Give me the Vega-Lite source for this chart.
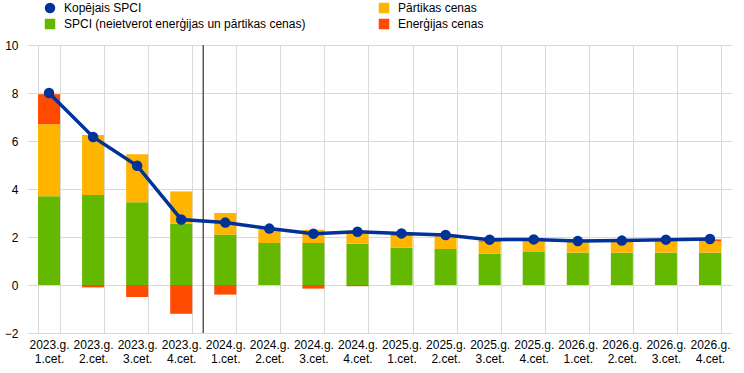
{
  "$schema": "https://vega.github.io/schema/vega-lite/v6.json",
  "width": 705,
  "height": 288,
  "autosize": {"type": "none"},
  "padding": {"left": 27, "top": 45, "right": 12, "bottom": 40},
  "background": "white",
  "config": {
    "font": "Liberation Sans",
    "view": {"stroke": null},
    "axis": {"labelFont": "Liberation Sans", "labelFontSize": 12, "labelColor": "#000000", "gridColor": "#d9d9d9", "gridWidth": 1}
  },
  "datasets": {
    "bars": [
      {"q": "2023.g. 1.cet.", "series": "SPCI (neietverot enerģijas un pārtikas cenas)", "v": 3.7},
      {"q": "2023.g. 1.cet.", "series": "Pārtikas cenas", "v": 3.0},
      {"q": "2023.g. 1.cet.", "series": "Enerģijas cenas", "v": 1.25},
      {"q": "2023.g. 2.cet.", "series": "SPCI (neietverot enerģijas un pārtikas cenas)", "v": 3.75},
      {"q": "2023.g. 2.cet.", "series": "Pārtikas cenas", "v": 2.5},
      {"q": "2023.g. 2.cet.", "series": "Enerģijas cenas", "v": -0.1},
      {"q": "2023.g. 3.cet.", "series": "SPCI (neietverot enerģijas un pārtikas cenas)", "v": 3.45},
      {"q": "2023.g. 3.cet.", "series": "Pārtikas cenas", "v": 2.0},
      {"q": "2023.g. 3.cet.", "series": "Enerģijas cenas", "v": -0.5},
      {"q": "2023.g. 4.cet.", "series": "SPCI (neietverot enerģijas un pārtikas cenas)", "v": 2.55},
      {"q": "2023.g. 4.cet.", "series": "Pārtikas cenas", "v": 1.35},
      {"q": "2023.g. 4.cet.", "series": "Enerģijas cenas", "v": -1.2},
      {"q": "2024.g. 1.cet.", "series": "SPCI (neietverot enerģijas un pārtikas cenas)", "v": 2.1},
      {"q": "2024.g. 1.cet.", "series": "Pārtikas cenas", "v": 0.9},
      {"q": "2024.g. 1.cet.", "series": "Enerģijas cenas", "v": -0.4},
      {"q": "2024.g. 2.cet.", "series": "SPCI (neietverot enerģijas un pārtikas cenas)", "v": 1.75},
      {"q": "2024.g. 2.cet.", "series": "Pārtikas cenas", "v": 0.6},
      {"q": "2024.g. 2.cet.", "series": "Enerģijas cenas", "v": 0.0},
      {"q": "2024.g. 3.cet.", "series": "SPCI (neietverot enerģijas un pārtikas cenas)", "v": 1.75},
      {"q": "2024.g. 3.cet.", "series": "Pārtikas cenas", "v": 0.55},
      {"q": "2024.g. 3.cet.", "series": "Enerģijas cenas", "v": -0.15},
      {"q": "2024.g. 4.cet.", "series": "SPCI (neietverot enerģijas un pārtikas cenas)", "v": 1.72},
      {"q": "2024.g. 4.cet.", "series": "Pārtikas cenas", "v": 0.55},
      {"q": "2024.g. 4.cet.", "series": "Enerģijas cenas", "v": -0.05},
      {"q": "2025.g. 1.cet.", "series": "SPCI (neietverot enerģijas un pārtikas cenas)", "v": 1.55},
      {"q": "2025.g. 1.cet.", "series": "Pārtikas cenas", "v": 0.5},
      {"q": "2025.g. 1.cet.", "series": "Enerģijas cenas", "v": 0.05},
      {"q": "2025.g. 2.cet.", "series": "SPCI (neietverot enerģijas un pārtikas cenas)", "v": 1.5},
      {"q": "2025.g. 2.cet.", "series": "Pārtikas cenas", "v": 0.55},
      {"q": "2025.g. 2.cet.", "series": "Enerģijas cenas", "v": 0.0},
      {"q": "2025.g. 3.cet.", "series": "SPCI (neietverot enerģijas un pārtikas cenas)", "v": 1.3},
      {"q": "2025.g. 3.cet.", "series": "Pārtikas cenas", "v": 0.5},
      {"q": "2025.g. 3.cet.", "series": "Enerģijas cenas", "v": 0.05},
      {"q": "2025.g. 4.cet.", "series": "SPCI (neietverot enerģijas un pārtikas cenas)", "v": 1.4},
      {"q": "2025.g. 4.cet.", "series": "Pārtikas cenas", "v": 0.5},
      {"q": "2025.g. 4.cet.", "series": "Enerģijas cenas", "v": 0.0},
      {"q": "2026.g. 1.cet.", "series": "SPCI (neietverot enerģijas un pārtikas cenas)", "v": 1.35},
      {"q": "2026.g. 1.cet.", "series": "Pārtikas cenas", "v": 0.45},
      {"q": "2026.g. 1.cet.", "series": "Enerģijas cenas", "v": 0.02},
      {"q": "2026.g. 2.cet.", "series": "SPCI (neietverot enerģijas un pārtikas cenas)", "v": 1.35},
      {"q": "2026.g. 2.cet.", "series": "Pārtikas cenas", "v": 0.5},
      {"q": "2026.g. 2.cet.", "series": "Enerģijas cenas", "v": 0.0},
      {"q": "2026.g. 3.cet.", "series": "SPCI (neietverot enerģijas un pārtikas cenas)", "v": 1.35},
      {"q": "2026.g. 3.cet.", "series": "Pārtikas cenas", "v": 0.5},
      {"q": "2026.g. 3.cet.", "series": "Enerģijas cenas", "v": 0.05},
      {"q": "2026.g. 4.cet.", "series": "SPCI (neietverot enerģijas un pārtikas cenas)", "v": 1.35},
      {"q": "2026.g. 4.cet.", "series": "Pārtikas cenas", "v": 0.47},
      {"q": "2026.g. 4.cet.", "series": "Enerģijas cenas", "v": 0.08}
    ],
    "hicp": [
      {"q": "2023.g. 1.cet.", "hicp": 8.0},
      {"q": "2023.g. 2.cet.", "hicp": 6.17},
      {"q": "2023.g. 3.cet.", "hicp": 4.97},
      {"q": "2023.g. 4.cet.", "hicp": 2.73},
      {"q": "2024.g. 1.cet.", "hicp": 2.6},
      {"q": "2024.g. 2.cet.", "hicp": 2.35},
      {"q": "2024.g. 3.cet.", "hicp": 2.14},
      {"q": "2024.g. 4.cet.", "hicp": 2.22},
      {"q": "2025.g. 1.cet.", "hicp": 2.15},
      {"q": "2025.g. 2.cet.", "hicp": 2.08},
      {"q": "2025.g. 3.cet.", "hicp": 1.89},
      {"q": "2025.g. 4.cet.", "hicp": 1.9},
      {"q": "2026.g. 1.cet.", "hicp": 1.83},
      {"q": "2026.g. 2.cet.", "hicp": 1.85},
      {"q": "2026.g. 3.cet.", "hicp": 1.89},
      {"q": "2026.g. 4.cet.", "hicp": 1.92}
    ],
    "divider": [{"q": "2024.g. 1.cet."}]
  },
  "encoding": {
    "x": {
      "field": "q", "type": "nominal",
      "scale": {"paddingInner": 0.5, "paddingOuter": 0.25},
      "axis": {"title": null, "labelAngle": 0, "tickBand": "extent", "grid": true, "domain": false, "ticks": false, "labelPadding": 6, "labelLineHeight": 14, "labelExpr": "split(datum.label, ' ')"}
    }
  },
  "layer": [
    {
      "data": {"name": "bars"},
      "mark": {"type": "bar"},
      "encoding": {
        "y": {
          "field": "v", "type": "quantitative", "stack": "zero",
          "scale": {"domain": [-2, 10], "nice": false},
          "axis": {"title": null, "values": [-2, 0, 2, 4, 6, 8, 10], "domain": false, "ticks": false, "labelPadding": 9, "grid": true}
        },
        "order": {"field": "series", "sort": "descending"},
        "color": {
          "field": "series", "type": "nominal",
          "scale": {
            "domain": ["Kopējais SPCI", "SPCI (neietverot enerģijas un pārtikas cenas)", "Pārtikas cenas", "Enerģijas cenas"],
            "range": ["#003299", "#65B800", "#FFB400", "#FF4B00"]
          },
          "legend": {
            "title": null, "orient": "none", "legendX": 17, "legendY": -43,
            "columns": 2, "columnPadding": 72, "rowPadding": 4,
            "labelFontSize": 12, "labelFont": "Liberation Sans", "labelColor": "#000000", "labelLimit": 400, "labelOffset": 8,
            "symbolSize": 110, "symbolType": "square",
            "encode": {
              "symbols": {
                "update": {
                  "shape": {"signal": "datum.value === 'Kopējais SPCI' ? 'circle' : 'square'"},
                  "fill": {"scale": "color", "field": "value"},
                  "strokeWidth": {"value": 0},
                  "opacity": {"value": 1}
                }
              }
            }
          }
        }
      }
    },
    {
      "data": {"name": "divider"},
      "mark": {"type": "rule", "color": "#595959", "strokeWidth": 1.5},
      "encoding": {
        "x": {"field": "q", "type": "nominal", "bandPosition": -0.5}
      }
    },
    {
      "data": {"name": "hicp"},
      "mark": {"type": "line", "strokeWidth": 3.5},
      "encoding": {
        "y": {"field": "hicp", "type": "quantitative"},
        "color": {"datum": "Kopējais SPCI"}
      }
    },
    {
      "data": {"name": "hicp"},
      "mark": {"type": "point", "filled": true, "size": 110, "opacity": 1},
      "encoding": {
        "y": {"field": "hicp", "type": "quantitative"},
        "color": {"datum": "Kopējais SPCI"}
      }
    }
  ]
}
